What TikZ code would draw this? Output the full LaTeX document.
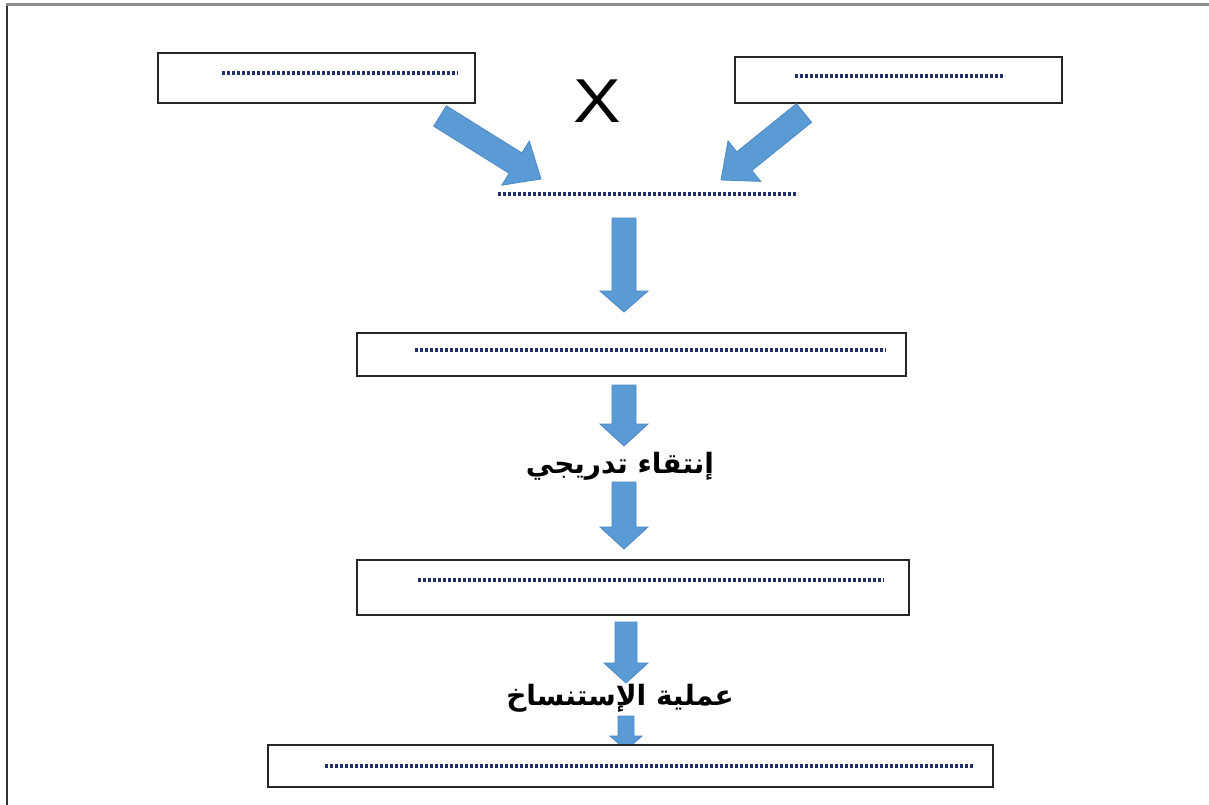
\documentclass[tikz,border=0pt]{standalone}
\usepackage{fontspec}
\usetikzlibrary{calc}
\newfontfamily\arabicfont[Script=Arabic]{DejaVu Sans}
\newfontfamily\crossfont{Liberation Sans}
\TeXXeTstate=1
\definecolor{arrowblue}{HTML}{5B9BD5}
\definecolor{arrowedge}{HTML}{4C88C4}
\definecolor{blankdots}{HTML}{22306A}

% block arrow from tail #1 to tip #2: shaft half-width #3, head half-width #4, head length #5
\newcommand\blockarrow[5]{%
  \path (#2) coordinate (ba-h) ($(#2)!#5!(#1)$) coordinate (ba-b);
  \filldraw[barrow]
    ($(#1)!#3!90:(#2)$) -- ($(ba-b)!#3!90:(ba-h)$) -- ($(ba-b)!#4!90:(ba-h)$)
    -- (ba-h) -- ($(ba-b)!#4!-90:(ba-h)$) -- ($(ba-b)!#3!-90:(ba-h)$)
    -- ($(#1)!#3!-90:(#2)$) -- cycle;}

\begin{document}
\begin{tikzpicture}[x=1pt,y=-1pt,
  box/.style={draw=black!85, line width=1.8pt, fill=white, inner sep=0pt},
  barrow/.style={fill=arrowblue, draw=arrowedge, line width=0.8pt, line join=miter},
  blank/.style={draw=blankdots, line width=3.4pt, dash pattern=on 2.8pt off 2.2pt},
  label/.style={font=\arabicfont\bfseries\fontsize{28}{32}\selectfont, inner sep=1pt}]
\useasboundingbox (0,0) rectangle (1209,805);

% page frame (left and top edges)
\draw[black!80, line width=2.5pt] (7,805) -- (7,5);
\draw[black!45, line width=3pt] (6,5) -- (1209,5);

% parent boxes and the cross sign
\node[box, minimum width=317pt, minimum height=50pt] (pA) at (316.5,78) {};
\node[box, minimum width=327pt, minimum height=46pt] (pB) at (898.5,80) {};
\node[font=\crossfont\fontsize{62}{62}\selectfont, inner sep=0pt, xscale=1.15] (cross) at (597,101) {X};

\draw[blank] (222,73) -- (458,73);
\draw[blank] (795,76) -- (1005,76);

% offspring line
\coordinate (f1L) at (498,194);
\coordinate (f1R) at (798,194);
\draw[blank] (f1L) -- (f1R);

% diagonal arrows to the offspring
\coordinate (tA) at (440,116);
\coordinate (hA) at (541,179);
\coordinate (tB) at (804,113);
\coordinate (hB) at (721,180);
\blockarrow{tA}{hA}{12pt}{26pt}{30pt}
\blockarrow{tB}{hB}{12pt}{26pt}{30pt}

% boxes down the chain
\node[box, minimum width=549pt, minimum height=43pt] (bC) at (631.5,354.5) {};
\draw[blank] (415,350) -- (886,350);
\node[box, minimum width=552pt, minimum height=55pt] (bD) at (633,587.5) {};
\draw[blank] (418,580) -- (884,580);

\node[label] (sel) at (620,466) {\beginR إنتقاء تدريجي\endR};
\node[label] (clo) at (620,698) {\beginR عملية الإستنساخ\endR};

% vertical arrows
\coordinate (t1) at (624,218);
\coordinate (h1) at (624,312);
\blockarrow{t1}{h1}{12pt}{24pt}{21pt}
\coordinate (t2) at (624,385);
\coordinate (h2) at (624,446);
\blockarrow{t2}{h2}{12pt}{24pt}{22pt}
\coordinate (t3) at (624,482);
\coordinate (h3) at (624,549);
\blockarrow{t3}{h3}{12pt}{24pt}{22pt}
\coordinate (t4) at (626,622);
\coordinate (h4) at (626,683);
\blockarrow{t4}{h4}{11pt}{22pt}{20pt}
\coordinate (t5) at (626,716);
\coordinate (h5) at (626,750);
\blockarrow{t5}{h5}{8pt}{16pt}{14pt}

% last box, drawn over the tip of the small arrow
\node[box, minimum width=725pt, minimum height=42pt] (bE) at (630.5,766) {};
\draw[blank] (325,766) -- (973,766);
\end{tikzpicture}
\end{document}
